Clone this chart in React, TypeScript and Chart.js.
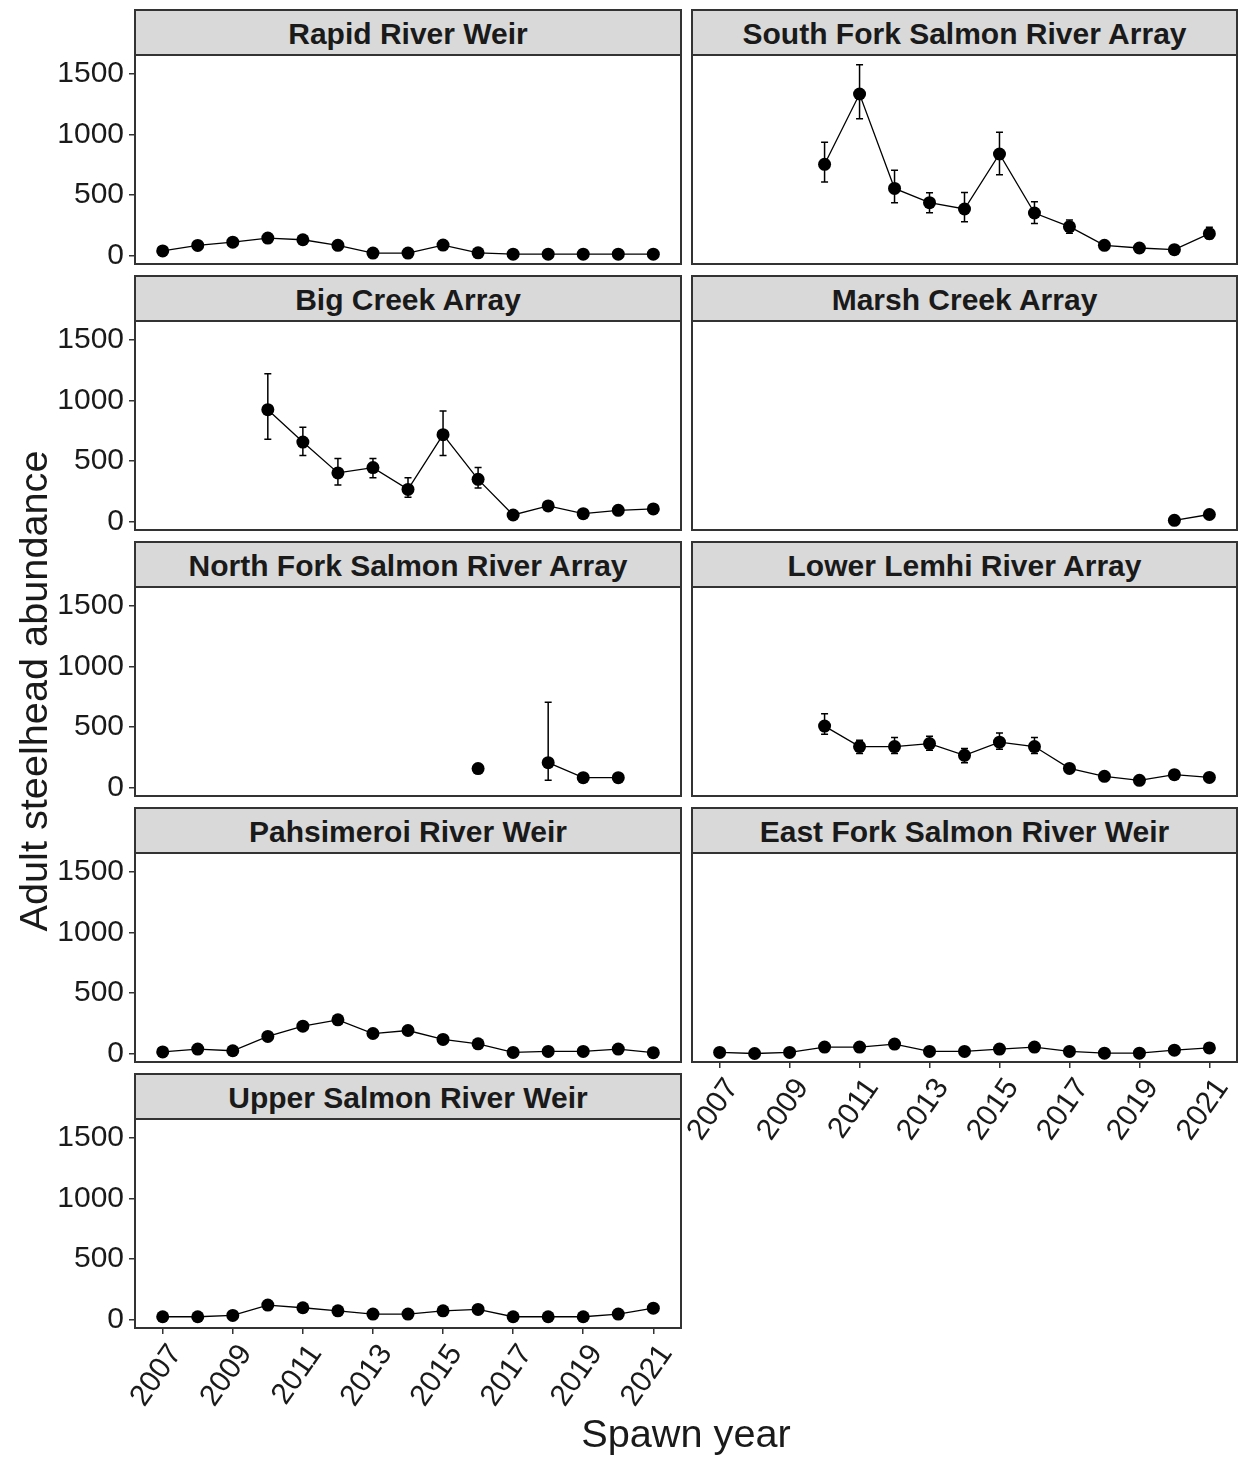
import React, { useEffect, useRef } from "react";
import { Chart, registerables } from "chart.js";

Chart.register(...registerables);

// ---------------- data ----------------
const N = null;
const YEARS = [2007, 2008, 2009, 2010, 2011, 2012, 2013, 2014, 2015, 2016, 2017, 2018, 2019, 2020, 2021];
const X_TICKS = [2007, 2009, 2011, 2013, 2015, 2017, 2019, 2021];
const Y_TICKS = [0, 500, 1000, 1500];

const rapidRiverWeir = [40, 85, 112, 146, 132, 86, 22, 22, 88, 24, 13, 13, 13, 13, 13];

const southForkEst = [N, N, N, 755, 1335, 556, 438, 386, 840, 353, 240, 86, 64, 50, 182];
const southForkLow = [N, N, N, 608, 1131, 438, 355, 281, 669, 267, 185, N, N, N, 140];
const southForkHigh = [N, N, N, 936, 1577, 705, 520, 523, 1019, 446, 295, N, N, N, 235];

const bigCreekEst = [N, N, N, 925, 658, 403, 447, 267, 719, 350, 56, 131, 67, 94, 106];
const bigCreekLow = [N, N, N, 681, 547, 303, 364, 203, 547, 278, N, N, N, N, N];
const bigCreekHigh = [N, N, N, 1222, 781, 522, 522, 364, 914, 447, N, N, N, N, N];

const marshCreekEst = [N, N, N, N, N, N, N, N, N, N, N, N, N, 12, 60];

const northForkEst = [N, N, N, N, N, N, N, N, N, 158, N, 207, 83, 83, N];
const northForkLow = [N, N, N, N, N, N, N, N, N, N, N, 61, N, N, N];
const northForkHigh = [N, N, N, N, N, N, N, N, N, N, N, 705, N, N, N];

const lowerLemhiEst = [N, N, N, 509, 340, 340, 365, 268, 376, 340, 160, 94, 61, 108, 85];
const lowerLemhiLow = [N, N, N, 442, 282, 282, 310, 207, 318, 282, N, N, N, N, N];
const lowerLemhiHigh = [N, N, N, 611, 392, 415, 426, 324, 453, 415, N, N, N, N, N];

const pahsimeroiWeir = [15, 39, 25, 143, 228, 280, 167, 192, 118, 82, 11, 19, 19, 39, 9];
const eastForkWeir = [11, 2, 11, 55, 55, 80, 19, 19, 39, 55, 19, 5, 5, 30, 48];
const upperSalmonWeir = [25, 25, 36, 121, 99, 74, 47, 47, 74, 85, 25, 25, 25, 47, 96];

const X_TITLE = "Spawn year";
const Y_TITLE = "Adult steelhead abundance";

type PanelDef = {
  title: string;
  values: (number | null)[];
  lower: (number | null)[] | null;
  upper: (number | null)[] | null;
  row: number;
  col: number;
  showX: boolean;
};

const PANELS: PanelDef[] = [
  { title: "Rapid River Weir", values: rapidRiverWeir, lower: null, upper: null, row: 0, col: 0, showX: false },
  { title: "South Fork Salmon River Array", values: southForkEst, lower: southForkLow, upper: southForkHigh, row: 0, col: 1, showX: false },
  { title: "Big Creek Array", values: bigCreekEst, lower: bigCreekLow, upper: bigCreekHigh, row: 1, col: 0, showX: false },
  { title: "Marsh Creek Array", values: marshCreekEst, lower: null, upper: null, row: 1, col: 1, showX: false },
  { title: "North Fork Salmon River Array", values: northForkEst, lower: northForkLow, upper: northForkHigh, row: 2, col: 0, showX: false },
  { title: "Lower Lemhi River Array", values: lowerLemhiEst, lower: lowerLemhiLow, upper: lowerLemhiHigh, row: 2, col: 1, showX: false },
  { title: "Pahsimeroi River Weir", values: pahsimeroiWeir, lower: null, upper: null, row: 3, col: 0, showX: false },
  { title: "East Fork Salmon River Weir", values: eastForkWeir, lower: null, upper: null, row: 3, col: 1, showX: true },
  { title: "Upper Salmon River Weir", values: upperSalmonWeir, lower: null, upper: null, row: 4, col: 0, showX: true },
];

// ---------------- layout ----------------
const X_MIN = 2006.21;
const X_MAX = 2021.79;
const Y_MIN = -68;
const Y_MAX = 1657;
const COLS: [number, number][] = [
  [135, 681],
  [692, 1237],
];
const FIRST_TOP = 9;
const ROW_STEP = 266;
const STRIP_H = 46;
const PLOT_H = 209;
const PAD_TOP = 6;
const PAD_BOTTOM = 6;
const X_AXIS_H = 90;
const FONT = "'Liberation Sans', Arial, Helvetica, sans-serif";
const TEXT_COLOR = "#1a1a1a";
const FRAME = "#333333";
const CAP = 3.5;

function Panel({ def }: { def: PanelDef }) {
  const ref = useRef<HTMLCanvasElement | null>(null);
  const [x0, x1] = COLS[def.col];
  const stripTop = FIRST_TOP + def.row * ROW_STEP;
  const plotTop = stripTop + STRIP_H;
  const canvasLeft = def.col === 0 ? 0 : 630;
  const canvasRight = def.col === 0 ? 690 : 1238;
  const canvasTop = plotTop - PAD_TOP;
  const canvasW = canvasRight - canvasLeft;
  const canvasH = PAD_TOP + PLOT_H + (def.showX ? X_AXIS_H : PAD_BOTTOM);
  const showY = def.col === 0;
  const yAxisW = x0 - canvasLeft;
  const padLeft = showY ? 0 : x0 - canvasLeft;
  const padRight = canvasRight - x1;

  useEffect(() => {
    if (!ref.current) return;
    const errorBars = {
      id: "errorBars",
      beforeDatasetsDraw(chart: any) {
        if (!def.lower || !def.upper) return;
        const xs = chart.scales.x;
        const ys = chart.scales.y;
        const ctx = chart.ctx;
        ctx.save();
        ctx.strokeStyle = "#000";
        ctx.lineWidth = 1.5;
        YEARS.forEach((yr, i) => {
          const lo = def.lower![i];
          const hi = def.upper![i];
          if (lo == null || hi == null) return;
          const px = xs.getPixelForValue(yr);
          const pl = ys.getPixelForValue(lo);
          const ph = ys.getPixelForValue(hi);
          ctx.beginPath();
          ctx.moveTo(px, pl);
          ctx.lineTo(px, ph);
          ctx.moveTo(px - CAP, pl);
          ctx.lineTo(px + CAP, pl);
          ctx.moveTo(px - CAP, ph);
          ctx.lineTo(px + CAP, ph);
          ctx.stroke();
        });
        ctx.restore();
      },
    };
    const frame = {
      id: "frame",
      afterDraw(chart: any) {
        const a = chart.chartArea;
        const ctx = chart.ctx;
        ctx.save();
        ctx.strokeStyle = FRAME;
        ctx.lineWidth = 2;
        ctx.strokeRect(a.left, a.top, a.right - a.left, a.bottom - a.top);
        ctx.restore();
      },
    };
    const chart = new Chart(ref.current, {
      type: "line",
      data: {
        datasets: [
          {
            data: YEARS.map((yr, i) => ({ x: yr, y: def.values[i] })) as any,
            borderColor: "#000",
            backgroundColor: "#000",
            borderWidth: 1.3,
            pointRadius: 6.5,
            pointHoverRadius: 6.5,
            pointBorderWidth: 0,
            pointBackgroundColor: "#000",
            spanGaps: false,
            tension: 0,
            fill: false,
          },
        ],
      },
      options: {
        responsive: false,
        maintainAspectRatio: false,
        animation: false,
        devicePixelRatio: 1,
        events: [],
        layout: {
          autoPadding: false,
          padding: { left: padLeft, right: padRight, top: PAD_TOP, bottom: def.showX ? 0 : PAD_BOTTOM },
        },
        plugins: {
          legend: { display: false },
          tooltip: { enabled: false },
          title: { display: false },
        },
        scales: {
          x: {
            type: "linear",
            min: X_MIN,
            max: X_MAX,
            display: def.showX,
            afterBuildTicks: (s: any) => {
              s.ticks = X_TICKS.map((v) => ({ value: v }));
            },
            afterFit: (s: any) => {
              if (!def.showX) return;
              s.height = X_AXIS_H;
              s.paddingLeft = 0;
              s.paddingRight = 0;
            },
            ticks: {
              autoSkip: false,
              minRotation: 55,
              maxRotation: 55,
              labelOffset: 13,
              padding: 4,
              color: TEXT_COLOR,
              font: { family: FONT, size: 30 },
              callback: (v: any) => String(v),
            },
            grid: {
              display: true,
              drawOnChartArea: false,
              drawTicks: true,
              tickLength: 6,
              color: FRAME,
              lineWidth: 1.5,
            },
            border: { display: false },
          },
          y: {
            type: "linear",
            min: Y_MIN,
            max: Y_MAX,
            display: showY,
            afterBuildTicks: (s: any) => {
              s.ticks = Y_TICKS.map((v) => ({ value: v }));
            },
            afterFit: (s: any) => {
              if (!showY) return;
              s.width = yAxisW;
              s.paddingTop = 0;
              s.paddingBottom = 0;
            },
            ticks: {
              padding: 5,
              color: TEXT_COLOR,
              font: { family: FONT, size: 30 },
              callback: (v: any) => String(v),
            },
            grid: {
              display: true,
              drawOnChartArea: false,
              drawTicks: true,
              tickLength: 6,
              color: FRAME,
              lineWidth: 1.5,
            },
            border: { display: false },
          },
        },
      } as any,
      plugins: [errorBars, frame],
    });
    return () => chart.destroy();
  }, []);

  return (
    <>
      <canvas
        ref={ref}
        width={canvasW}
        height={canvasH}
        style={{ position: "absolute", left: canvasLeft, top: canvasTop, width: canvasW, height: canvasH }}
      />
      <div
        style={{
          position: "absolute",
          left: x0 - 1,
          top: stripTop,
          width: x1 - x0 + 2,
          height: STRIP_H + 1,
          boxSizing: "border-box",
          background: "#d9d9d9",
          border: `2px solid ${FRAME}`,
          fontFamily: FONT,
          fontWeight: "bold",
          fontSize: 30,
          lineHeight: "39px",
          paddingTop: 3,
          textAlign: "center",
          color: TEXT_COLOR,
          whiteSpace: "nowrap",
        }}
      >
        {def.title}
      </div>
    </>
  );
}

export default function App() {
  return (
    <div
      style={{
        position: "absolute",
        left: 0,
        top: 0,
        width: 1238,
        height: 1458,
        background: "#fff",
        overflow: "hidden",
      }}
    >
      {PANELS.map((p) => (
        <Panel key={p.title} def={p} />
      ))}
      <div
        style={{
          position: "absolute",
          left: 33 - 300,
          top: 691 - 20,
          width: 600,
          height: 40,
          lineHeight: "40px",
          fontFamily: FONT,
          fontSize: 39.7,
          color: TEXT_COLOR,
          textAlign: "center",
          transform: "rotate(-90deg)",
          whiteSpace: "nowrap",
        }}
      >
        {Y_TITLE}
      </div>
      <div
        style={{
          position: "absolute",
          left: 686 - 200,
          top: 1413,
          width: 400,
          height: 40,
          lineHeight: "40px",
          fontFamily: FONT,
          fontSize: 39.7,
          color: TEXT_COLOR,
          textAlign: "center",
          whiteSpace: "nowrap",
        }}
      >
        {X_TITLE}
      </div>
    </div>
  );
}
